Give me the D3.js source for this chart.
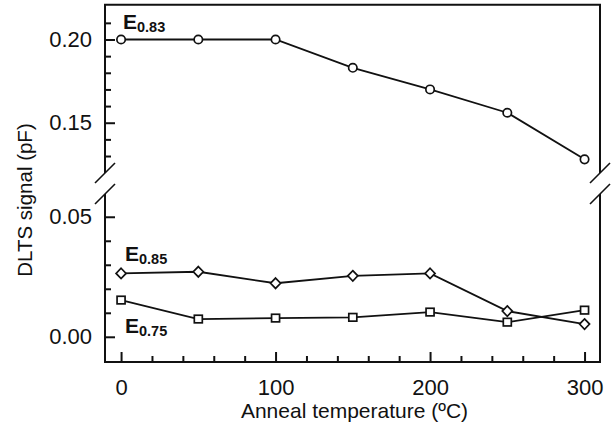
<!DOCTYPE html>
<html>
<head>
<meta charset="utf-8">
<script src="https://cdn.jsdelivr.net/npm/d3@7/dist/d3.min.js"></script>
<style>
  html, body { margin: 0; padding: 0; background: #fff; }
  svg { display: block; font-family: "Liberation Sans", Arial, sans-serif; }
</style>
</head>
<body>
<svg id="chart" width="614" height="425"></svg>
<script>
// Anneal temperatures (°C)
const temps = [0, 50, 100, 150, 200, 250, 300];
// DLTS signal (pF) per trap level
const e083 = [0.200, 0.200, 0.200, 0.183, 0.170, 0.156, 0.128];
const e085 = [0.0264, 0.0271, 0.0223, 0.0254, 0.0264, 0.0107, 0.0053];
const e075 = [0.0153, 0.0074, 0.0078, 0.0081, 0.0103, 0.0061, 0.0111];

// Tick values
const xMajor = [0, 100, 200, 300];
const xMinor = [20, 40, 60, 80, 120, 140, 160, 180, 220, 240, 260, 280];
const yUpperMajor = [0.15, 0.20];
const yUpperMinor = [0.13, 0.14, 0.16, 0.17, 0.18, 0.19, 0.21];
const yLowerMajor = [0.00, 0.05];
const yLowerMinor = [0.01, 0.02, 0.03, 0.04];

const ink = "#111";
const svg = d3.select("#chart");

const plotL = 105, plotR = 600, plotT = 4.7, plotB = 362;
const breakTop = 173, breakBottom = 194;

const x = d3.scaleLinear().domain([-10.4, 310]).range([plotL, plotR]);
// upper (broken) segment and lower segment of the y axis
const yUp = d3.scaleLinear().domain([0.1198, 0.2209]).range([breakTop, plotT]);
const yLo = d3.scaleLinear().domain([-0.0105, 0.0599]).range([plotB, breakBottom - 1]);

// ---- frame ----
const frame = svg.append("g").attr("stroke", ink).attr("stroke-width", 2).attr("fill", "none");
frame.append("path").attr("d", `M${plotL},${breakTop}V${plotT}H${plotR}V${breakTop}`);
frame.append("path").attr("d", `M${plotL},${breakBottom}V${plotB}H${plotR}V${breakBottom}`);
// break marks
[plotL, plotR].forEach(cx => {
  [breakTop, breakBottom].forEach(cy => {
    frame.append("line")
      .attr("x1", cx - 10).attr("y1", cy + 10)
      .attr("x2", cx + 10).attr("y2", cy - 10)
      .attr("stroke-width", 1.6);
  });
});

function styleAxis(g) {
  g.select(".domain").remove();
  g.selectAll(".tick line").attr("stroke", ink).attr("stroke-width", 2);
  g.selectAll(".tick text").attr("fill", ink)
    .style("font-family", "'Liberation Sans', Arial, sans-serif");
}

// ---- x axis ----
svg.append("g").attr("transform", `translate(0,${plotB})`)
  .call(d3.axisBottom(x).tickValues(xMinor).tickSize(-6).tickFormat(""))
  .call(styleAxis);
svg.append("g").attr("transform", `translate(0,${plotB})`)
  .call(d3.axisBottom(x).tickValues(xMajor).tickSize(-10).tickPadding(17)
    .tickFormat(d3.format("d")))
  .call(styleAxis)
  .call(g => g.selectAll(".tick text").attr("font-size", 22));

// ---- y axes ----
[[yUp, yUpperMajor, yUpperMinor], [yLo, yLowerMajor, yLowerMinor]].forEach(([sc, maj, min]) => {
  svg.append("g").attr("transform", `translate(${plotL},0)`)
    .call(d3.axisLeft(sc).tickValues(min).tickSize(-6).tickFormat(""))
    .call(styleAxis);
  svg.append("g").attr("transform", `translate(${plotL},0)`)
    .call(d3.axisLeft(sc).tickValues(maj).tickSize(-10).tickPadding(13)
      .tickFormat(d3.format(".2f")))
    .call(styleAxis)
    .call(g => g.selectAll(".tick text").attr("font-size", 22));
});

// ---- axis titles ----
svg.append("text")
  .attr("x", (plotL + plotR) / 2 + 2).attr("y", 418)
  .attr("text-anchor", "middle").attr("font-size", 21).attr("fill", ink)
  .text("Anneal temperature (ºC)");
svg.append("text")
  .attr("transform", "translate(32,200) rotate(-90)")
  .attr("text-anchor", "middle").attr("font-size", 20.5).attr("fill", ink)
  .text("DLTS signal (pF)");

// ---- series ----
const line = (sc) => d3.line().x((d, i) => x(temps[i])).y(d => sc(d));
const series = [
  { vals: e083, sc: yUp, shape: "circle" },
  { vals: e085, sc: yLo, shape: "diamond" },
  { vals: e075, sc: yLo, shape: "square" }
];
series.forEach(s => {
  svg.append("path").datum(s.vals)
    .attr("d", line(s.sc))
    .attr("fill", "none").attr("stroke", ink).attr("stroke-width", 1.8);
  const g = svg.append("g");
  s.vals.forEach((v, i) => {
    const cx = x(temps[i]), cy = s.sc(v);
    let m;
    if (s.shape === "circle") {
      m = g.append("circle").attr("cx", cx).attr("cy", cy).attr("r", 4.2);
    } else if (s.shape === "diamond") {
      m = g.append("path").attr("d", `M${cx},${cy - 5.2}L${cx + 5},${cy}L${cx},${cy + 5.2}L${cx - 5},${cy}Z`);
    } else {
      m = g.append("rect").attr("x", cx - 4).attr("y", cy - 3.8).attr("width", 8).attr("height", 7.6);
    }
    m.attr("fill", "#fff").attr("stroke", ink).attr("stroke-width", 1.7);
  });
});

// ---- series labels ----
const labels = [
  { main: "E", sub: "0.83", x: 123, y: 29.3 },
  { main: "E", sub: "0.85", x: 125, y: 260.7 },
  { main: "E", sub: "0.75", x: 125, y: 333.3 }
];
labels.forEach(l => {
  const t = svg.append("text").attr("x", l.x).attr("y", l.y)
    .attr("fill", ink).attr("font-weight", "bold").attr("font-size", 21);
  t.append("tspan").text(l.main);
  t.append("tspan").attr("dy", 3).attr("font-size", 14.5).text(l.sub);
});
</script>
</body>
</html>
